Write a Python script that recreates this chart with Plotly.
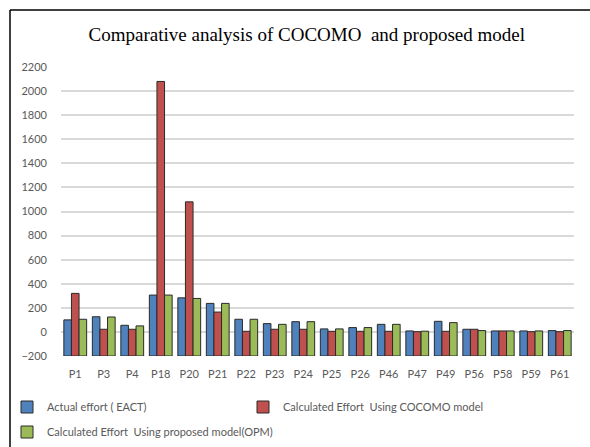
import plotly.graph_objects as go

projects = ["P1", "P3", "P4", "P18", "P20", "P21", "P22", "P23", "P24", "P25",
            "P26", "P46", "P47", "P49", "P56", "P58", "P59", "P61"]

actual_effort = [100, 126, 55, 306, 283, 237, 105, 69, 85, 25,
                 36, 63, 8, 88, 22, 8, 8, 11]
cocomo_effort = [320, 22, 22, 2080, 1080, 165, 5, 22, 22, 5,
                 5, 5, 2, 5, 22, 8, 2, 2]
opm_effort = [105, 124, 50, 306, 278, 237, 105, 63, 85, 25,
              36, 63, 6, 77, 11, 8, 8, 11]

y_ticks = list(range(-200, 2201, 200))
AXIS_MIN = -200

names = ["Actual effort ( EACT)",
         "Calculated Effort  Using COCOMO model",
         "Calculated Effort  Using proposed model(OPM)"]
colors = ["#4F81BD", "#C0504D", "#9BBB59"]
series = [actual_effort, cocomo_effort, opm_effort]
legend_ids = ["legend", "legend2", "legend3"]

fig = go.Figure()
for name, col, vals, lg in zip(names, colors, series, legend_ids):
    fig.add_trace(go.Bar(
        x=projects,
        y=[v - AXIS_MIN for v in vals],
        base=AXIS_MIN,
        name=name,
        legend=lg,
        marker=dict(color=col, line=dict(color="#2a2a2a", width=1)),
        customdata=vals,
        hovertemplate="%{x}: %{customdata}<extra>" + name + "</extra>",
    ))

W, H = 590, 447
L, R, T, B = 61, 16, 67, 91
pw, ph = W - L - R, H - T - B


def px_x(p):
    return (p - L) / pw


def px_y(p):
    return (H - B - p) / ph


legend_font = dict(family="Lato", size=11, color="#595959")


def legend_at(xpx, ypx):
    return dict(orientation="h", xref="container", yref="container",
                x=xpx / W, xanchor="left", y=1 - ypx / H, yanchor="middle",
                font=legend_font, bgcolor="rgba(0,0,0,0)")


fig.update_layout(
    width=W, height=H,
    margin=dict(l=L, r=R, t=T, b=B, autoexpand=False),
    paper_bgcolor="white", plot_bgcolor="white",
    barmode="group", bargap=0.2, bargroupgap=0.0,
    title=dict(text="Comparative analysis of COCOMO  and proposed model",
               x=0.52, xanchor="center", y=1 - 34 / H, yanchor="middle",
               font=dict(family="Liberation Serif", size=19, color="#000000")),
    font=dict(family="Lato", size=11, color="#595959"),
    showlegend=True,
    legend=legend_at(7, 407),
    legend2=legend_at(243, 407),
    legend3=legend_at(7, 432),
    xaxis=dict(showgrid=False, showline=False, ticks="", zeroline=False,
               automargin=False,
               tickfont=dict(size=11, color="#595959"), ticklabelstandoff=10),
    yaxis=dict(range=[-200, 2200], tickvals=y_ticks, showgrid=True,
               gridcolor="#D9D9D9", gridwidth=1.5, zeroline=False,
               automargin=False,
               showline=False, ticks="", ticklabelstandoff=13,
               tickfont=dict(size=11, color="#595959")),
    shapes=[
        dict(type="line", xref="paper", yref="paper",
             x0=px_x(10), x1=px_x(W), y0=px_y(10), y1=px_y(10),
             line=dict(color="#000000", width=1.5)),
        dict(type="line", xref="paper", yref="paper",
             x0=px_x(10), x1=px_x(10), y0=px_y(10), y1=px_y(H),
             line=dict(color="#000000", width=1.5)),
    ],
)

fig.write_html("out.html",
               config={"displayModeBar": False},
               post_script="document.body.style.margin='0';"
                           "document.body.style.overflow='hidden';")
